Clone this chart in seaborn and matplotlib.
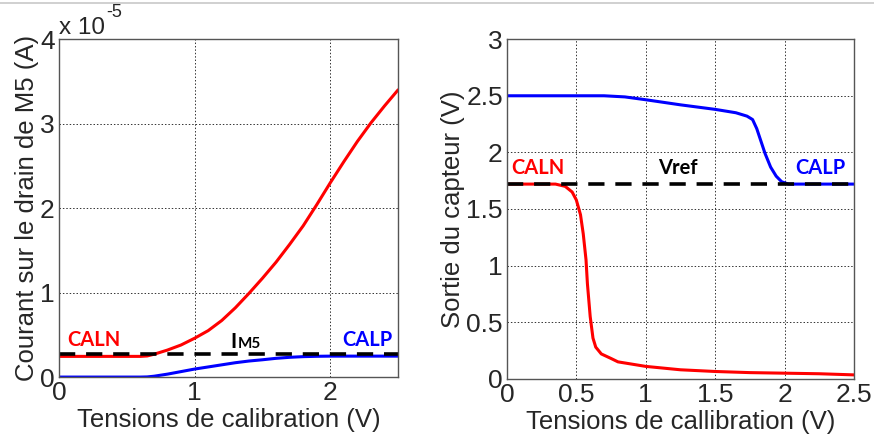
import numpy as np
import pandas as pd
import seaborn as sns
import matplotlib.pyplot as plt
from matplotlib.lines import Line2D

# left panel: drain current of M5 (x 1e-5 A)
x_cur = [0, 0.3, 0.6, 0.65, 0.7, 0.8, 0.9, 1.0, 1.1, 1.2, 1.3, 1.4, 1.5, 1.6, 1.7, 1.8, 1.9, 2.0, 2.1, 2.2, 2.3, 2.4, 2.5]
caln_cur = [0.245, 0.245, 0.245, 0.25, 0.27, 0.32, 0.38, 0.46, 0.55, 0.67, 0.82, 0.99, 1.17, 1.36, 1.57, 1.79, 2.04, 2.30, 2.55, 2.79, 3.01, 3.21, 3.40]
calp_cur = [0, 0, 0, 0.002, 0.01, 0.035, 0.065, 0.095, 0.12, 0.145, 0.17, 0.19, 0.205, 0.222, 0.234, 0.242, 0.246, 0.248, 0.248, 0.248, 0.248, 0.248, 0.248]
im5 = 0.275

# right panel: sensor output (V)
x_caln_out = [0, 0.35, 0.42, 0.47, 0.5, 0.53, 0.55, 0.57, 0.58, 0.6, 0.62, 0.64, 0.68, 0.75, 0.8, 0.9, 1.0, 1.25, 1.5, 1.75, 2.0, 2.25, 2.5]
caln_out = [1.72, 1.72, 1.70, 1.65, 1.58, 1.45, 1.28, 1.05, 0.84, 0.55, 0.36, 0.28, 0.22, 0.18, 0.15, 0.13, 0.11, 0.08, 0.065, 0.055, 0.05, 0.045, 0.035]
x_calp_out = [0, 0.7, 0.85, 1.0, 1.25, 1.5, 1.65, 1.73, 1.77, 1.8, 1.83, 1.86, 1.9, 1.94, 1.98, 2.03, 2.5]
calp_out = [2.5, 2.5, 2.49, 2.465, 2.42, 2.38, 2.35, 2.32, 2.29, 2.21, 2.10, 1.99, 1.87, 1.79, 1.74, 1.72, 1.72]
vref = 1.72

sns.set_theme(style="white")
plt.rcParams['font.family'] = ['Liberation Sans', 'DejaVu Sans']

fig = plt.figure(figsize=(8.74, 4.40), dpi=100)
ax1 = fig.add_axes([0.0675, 0.143, 0.388, 0.768])
ax2 = fig.add_axes([0.580, 0.139, 0.397, 0.772])

# thin border line at the top of the picture
fig.add_artist(Line2D([0, 1], [0.993, 0.993], color='#c8c8c8', lw=1.2, transform=fig.transFigure))

lab = dict(fontweight='bold', family='Lato', va='center')

# left plot
sns.lineplot(x=x_cur, y=caln_cur, ax=ax1, color='red', lw=2.2, estimator=None, sort=False)
sns.lineplot(x=x_cur, y=calp_cur, ax=ax1, color='blue', lw=2.2, estimator=None, sort=False)
ax1.axhline(im5, color='black', lw=2.6, dashes=(4.5, 3))
ax1.set_xlim(0, 2.5)
ax1.set_ylim(0, 4)
ax1.set_xticks([0, 1, 2])
ax1.set_yticks([0, 1, 2, 3, 4])
ax1.set_xlabel("Tensions de calibration (V)", fontsize=18.5, labelpad=2)
ax1.set_ylabel("Courant sur le drain de M5 (A)", fontsize=18.5, labelpad=1)
ax1.text(0.0, 1.0, "x 10", transform=ax1.transAxes, fontsize=17.5, va='bottom', ha='left')
ax1.text(0.138, 1.055, "-5", transform=ax1.transAxes, fontsize=13, va='bottom', ha='left')
ax1.text(0.06, 0.44, "CALN", color='red', fontsize=14.5, **lab)
ax1.text(1.31, 0.42, "I", color='black', ha='right', fontsize=15, **lab)
ax1.text(1.315, 0.39, "M5", color='black', ha='left', fontsize=11, **lab)
ax1.text(2.46, 0.44, "CALP", color='blue', ha='right', fontsize=14.5, **lab)

# right plot
sns.lineplot(x=x_caln_out, y=caln_out, ax=ax2, color='red', lw=2.2, estimator=None, sort=False)
sns.lineplot(x=x_calp_out, y=calp_out, ax=ax2, color='blue', lw=2.2, estimator=None, sort=False)
ax2.axhline(vref, color='black', lw=2.6, dashes=(4.5, 3))
ax2.set_xlim(0, 2.5)
ax2.set_ylim(0, 3)
ax2.set_xticks([0, 0.5, 1, 1.5, 2, 2.5])
ax2.set_xticklabels(['0', '0.5', '1', '1.5', '2', '2.5'])
ax2.set_yticks([0, 0.5, 1, 1.5, 2, 2.5, 3])
ax2.set_yticklabels(['0', '0.5', '1', '1.5', '2', '2.5', '3'])
ax2.set_xlabel("Tensions de callibration (V)", fontsize=18.5, labelpad=2)
ax2.set_ylabel("Sortie du capteur (V)", fontsize=18.5, labelpad=1)
ax2.text(0.03, 1.86, "CALN", color='red', fontsize=14.5, **lab)
ax2.text(1.23, 1.86, "Vref", color='black', ha='center', fontsize=14.5, **lab)
ax2.text(2.26, 1.86, "CALP", color='blue', ha='center', fontsize=14.5, **lab)

for ax in (ax1, ax2):
    ax.grid(True, color='#333333', ls=(0, (1.5, 2)), lw=0.7)
    ax.tick_params(direction='in', length=4, width=0.8, labelsize=19, pad=3, color='#444444')
    for s in ax.spines.values():
        s.set_color('#555555')
        s.set_linewidth(1.0)
    ax.set_facecolor('white')

fig.savefig("out.png", dpi=100)
